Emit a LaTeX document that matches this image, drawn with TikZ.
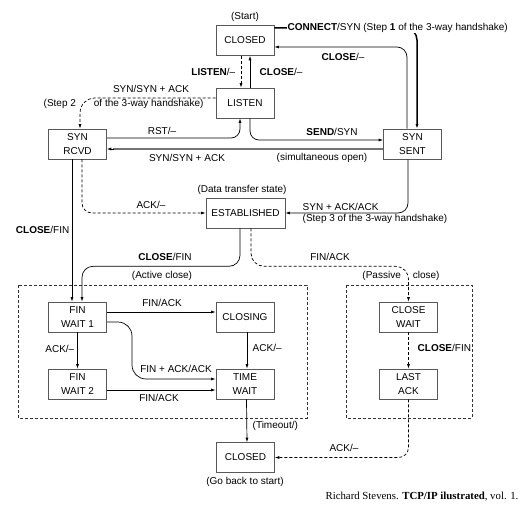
\documentclass[tikz,border=0pt]{standalone}
\usepackage{fontspec}
\setmainfont{Liberation Sans}
\newfontfamily\creditfont{Liberation Serif}
\usepackage{tikz}
\usetikzlibrary{arrows.meta}
\usetikzlibrary{shapes.geometric, calc}

\tikzset{
  state/.style={draw=black!65, line width=0.6pt, minimum width=58pt, minimum height=30pt,
    inner sep=1pt, align=center, font=\fontsize{10}{14}\selectfont},
  lab/.style={inner sep=0.5pt, font=\fontsize{10}{12}\selectfont},
  tr/.style={line width=0.7pt, -{Latex[length=4.5pt,width=3pt]}},
  dtr/.style={tr, dash pattern=on 3pt off 2pt},
  zone/.style={draw=black!80, line width=0.6pt, dash pattern=on 3pt off 2pt},
}

\begin{document}
\begin{tikzpicture}[x=1pt, y=-1pt]
                \useasboundingbox (0,0) rectangle (520,527);
                % Active and passive close zones
                \foreach \a/\b in {18/307, 346/472} {
                    \draw[zone] (\a,285) rectangle (\b,418);
                }
                % States
                \node[state] (closed) at (245,40.5) {CLOSED};
                \node[state] (listen) at (245,103) {LISTEN};
                \node[state] (synrcvd) at (77.5,144) {SYN\\RCVD};
                \node[state] (synsent) at (412.5,144) {SYN\\SENT};
                \node[state, minimum width=79pt] (estab) at (245.5,213) {ESTABLISHED};
                \node[state] (finwait1) at (77.5,317) {FIN\\WAIT 1};
                \node[state] (finwait2) at (77.5,384) {FIN\\WAIT 2};
                \node[state] (closing) at (245,317) {CLOSING};
                \node[state] (timewait) at (245,384) {TIME\\WAIT};
                \node[state] (closewait) at (408.5,317) {CLOSE\\WAIT};
                \node[state] (lastack) at (408.5,384) {LAST\\ACK};
                \node[state] (closedend) at (245.5,457.5) {CLOSED};

                % Opening
                \draw[tr, line width=1.5pt, rounded corners=12pt] ([yshift=12.5pt]closed.east) -| ([xshift=4.5pt]synsent.north);
                \draw[tr, rounded corners=10pt] ([xshift=-5.5pt]synsent.north) |- ([yshift=-6.5pt]closed.east);
                \draw[dtr] ([xshift=-4pt]closed.south) -- ([xshift=-4pt]listen.north);
                \draw[tr] ([xshift=5pt]listen.north) -- ([xshift=5pt]closed.south);
                \draw[dtr, rounded corners=15pt] ([yshift=5pt]listen.west) -| ([xshift=2.5pt]synrcvd.north);
                \draw[tr, rounded corners=9pt] ([xshift=5pt]listen.south) |- ([yshift=4pt]synsent.west);
                \draw[tr, rounded corners=9pt] ([yshift=6pt]synrcvd.east) -| ([xshift=-5pt]listen.south);
                \draw[line width=2.6pt, black!55] ([yshift=-5pt]synsent.west) -- ([yshift=-5pt,xshift=6pt]synrcvd.east);
                \draw[tr] ([yshift=-5pt,xshift=7pt]synrcvd.east) -- ([yshift=-5pt]synrcvd.east);
                \draw[dtr, rounded corners=10pt] ([xshift=4.5pt]synrcvd.south) |- (estab.west);
                \draw[tr, rounded corners=10pt] ([xshift=-4.5pt]synsent.south) |- (estab.east);

                % Closing
                \draw[tr] ([xshift=-5.5pt]synrcvd.south) -- ([xshift=-5.5pt]finwait1.north);
                \draw[tr, rounded corners=11pt] ([xshift=-5.5pt]estab.south) -- ++(0,38) -| ([xshift=4.5pt]finwait1.north);
                \draw[dtr, rounded corners=13pt] ([xshift=5.5pt]estab.south) -- ++(0,38) -| (closewait.north);
                \draw[tr] ([yshift=5pt]finwait1.east) -- ([yshift=5pt]closing.west);
                \draw[tr, rounded corners=14pt] ([yshift=-5pt]finwait1.east) -| (132,350) |- ([yshift=5pt]timewait.west);
                \draw[tr] (finwait1.south) -- (finwait2.north);
                \draw[tr] ([yshift=-6pt]finwait2.east) -- ([yshift=-6pt]timewait.west);
                \draw[tr] ([xshift=2pt]closing.south) -- ([xshift=2pt]timewait.north);
                \draw[tr] ([xshift=1.5pt]timewait.south) -- ([xshift=1.5pt]closedend.north);
                \draw[dtr] (closewait.south) -- (lastack.north);
                \draw[dtr, rounded corners=10pt] (lastack.south) |- (closedend.east);

                % Labels
                \node[lab] (startlbl) at (245,17) {(Start)};
                \node[lab, fill=white, anchor=west] (connlbl) at (287,28) {\textbf{CONNECT}/SYN (Step \textbf{1} of the 3-way handshake)};
                \node[lab] (closelbl1) at (343,57) {\textbf{CLOSE}/--};
                \node[lab, anchor=east] (listenlbl) at (236,72) {\textbf{LISTEN}/--};
                \node[lab, anchor=west] (closelbl2) at (259,72) {\textbf{CLOSE}/--};
                \node[lab] (synlbl1) at (151,89) {SYN/SYN + ACK};
                \node[lab, anchor=west] (step2lbl) at (43,104) {(Step 2\hspace{18pt}of the 3-way handshake)};
                \node[lab] (rstlbl) at (162,131) {RST/--};
                \node[lab] (sendlbl) at (332,132) {\textbf{SEND}/SYN};
                \node[lab] (synlbl2) at (187,158) {SYN/SYN + ACK};
                \node[lab] (simlbl) at (322,158) {(simultaneous open)};
                \node[lab] (datalbl) at (242,190) {(Data transfer state)};
                \node[lab] (acklbl1) at (151,205) {ACK/--};
                \node[lab, anchor=west] (synacklbl) at (302,207) {SYN + ACK/ACK};
                \node[lab, anchor=west] (step3lbl) at (302,219) {(Step 3 of the 3-way handshake)};
                \node[lab, anchor=east] (closefinlbl1) at (70,230) {\textbf{CLOSE}/FIN};
                \node[lab] (closefinlbl2) at (165,257) {\textbf{CLOSE}/FIN};
                \node[lab] (finacklbl1) at (330,257) {FIN/ACK};
                \node[lab] (activelbl) at (162,276) {(Active close)};
                \node[lab] (passivelbl) at (401,276) {(Passive\hspace{12pt}close)};
                \node[lab] (finacklbl2) at (162,303) {FIN/ACK};
                \node[lab, anchor=east] (acklbl2) at (75,349) {ACK/--};
                \node[lab, anchor=west] (acklbl3) at (252,348) {ACK/--};
                \node[lab, anchor=west] (closefinlbl3) at (417,348) {\textbf{CLOSE}/FIN};
                \node[lab] (finackacklbl) at (176,369) {FIN + ACK/ACK};
                \node[lab] (finacklbl3) at (159,398) {FIN/ACK};
                \node[lab, anchor=west] (timeoutlbl) at (252,426) {(Timeout/)};
                \node[lab] (acklbl4) at (344,448) {ACK/--};
                \node[lab] (backlbl) at (245,482) {(Go back to start)};
                \node[font=\creditfont\fontsize{10.8}{12}\selectfont] (credit) at (422,497) {Richard Stevens. \textbf{TCP/IP ilustrated}, vol. 1.};
            \end{tikzpicture}
\end{document}
